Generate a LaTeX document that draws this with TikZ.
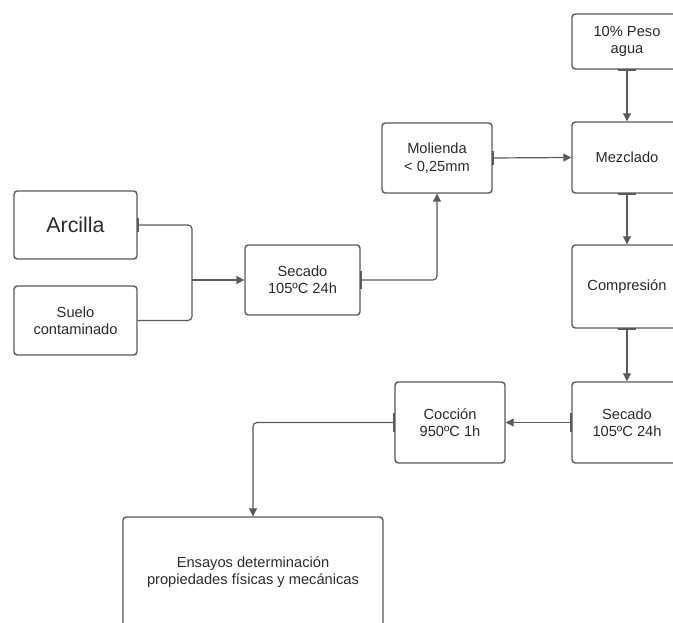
\documentclass[tikz,border=0pt]{standalone}
\usepackage{fontspec}
\setmainfont{Liberation Sans}
\usetikzlibrary{arrows.meta}
\definecolor{ln}{HTML}{5A5A5A}
\definecolor{tx}{HTML}{2B2B2B}
\tikzset{
  box/.style={draw=ln, line width=1.1pt, rounded corners=2.5pt, align=center, text=tx, font=\fontsize{11pt}{13pt}\selectfont, inner sep=0pt},
  conn/.style={draw=ln, line width=0.9pt, rounded corners=3pt},
  arr/.style={conn, -{Triangle[length=6pt,width=6pt]}},
  bar/.style={draw=ln, line width=1.8pt}
}
\begin{document}
\begin{tikzpicture}[x=0.75pt,y=-0.75pt]
\useasboundingbox (0,0) rectangle (673,623);
\clip (0,0) rectangle (673,623);
\fill[white] (0,0) rectangle (673,623);
\node[box, minimum width=92.25pt, minimum height=51pt, font=\fontsize{16pt}{18pt}\selectfont] (arc) at (75.5,225) {Arcilla};
\node[box, minimum width=92.25pt, minimum height=51.75pt] (sue) at (75.5,320.5) {Suelo\\contaminado};
\node[box, minimum width=86.25pt, minimum height=52.5pt] (sec1) at (302.5,280) {Secado\\105ºC 24h};
\node[box, minimum width=82.5pt, minimum height=52.5pt] (mol) at (437,158) {Molienda\\< 0,25mm};
\node[box, minimum width=82.5pt, minimum height=41.25pt] (agu) at (627,41.5) {10\% Peso\\agua};
\node[box, minimum width=82.5pt, minimum height=53.25pt] (mez) at (627,157.5) {Mezclado};
\node[box, minimum width=82.5pt, minimum height=62.25pt] (com) at (627,286.5) {Compresión};
\node[box, minimum width=82.5pt, minimum height=60.75pt] (sec2) at (627,422.5) {Secado\\105ºC 24h};
\node[box, minimum width=82.5pt, minimum height=60.75pt] (coc) at (450,422.5) {Cocción\\950ºC 1h};
\node[box, minimum width=195pt, minimum height=82.5pt] (ens) at (253,572) {Ensayos determinación\\propiedades físicas y mecánicas};
\coordinate (j) at (192,280);
% connectors
\draw[conn] (arc.east) -| (j) |- (sue.east);
\draw[arr] (j) -- (sec1.west);
\draw[arr] (sec1.east) -| (mol.south);
\draw[arr] (mol.east) -- (mez.west);
\draw[arr] (agu.south) -- (mez.north);
\draw[arr] (mez.south) -- (com.north);
\draw[arr] (com.south) -- (sec2.north);
\draw[arr] (sec2.west) -- (coc.east);
\draw[arr] (coc.west) -| (ens.north);
% connection point marks
\draw[bar] ([yshift=5pt]arc.east) -- ([yshift=-5pt]arc.east);
\draw[bar] ([yshift=7pt]sec1.east) -- ([yshift=-7pt]sec1.east);
\draw[bar] ([yshift=5pt]mol.east) -- ([yshift=-5pt]mol.east);
\draw[bar] ([xshift=-7pt]agu.south) -- ([xshift=7pt]agu.south);
\draw[bar] ([xshift=-7pt]mez.south) -- ([xshift=7pt]mez.south);
\draw[bar] ([xshift=-7pt]com.south) -- ([xshift=7pt]com.south);
\draw[bar] ([yshift=7pt]sec2.west) -- ([yshift=-7pt]sec2.west);
\draw[bar] ([yshift=7pt]coc.west) -- ([yshift=-7pt]coc.west);
\end{tikzpicture}
\end{document}
